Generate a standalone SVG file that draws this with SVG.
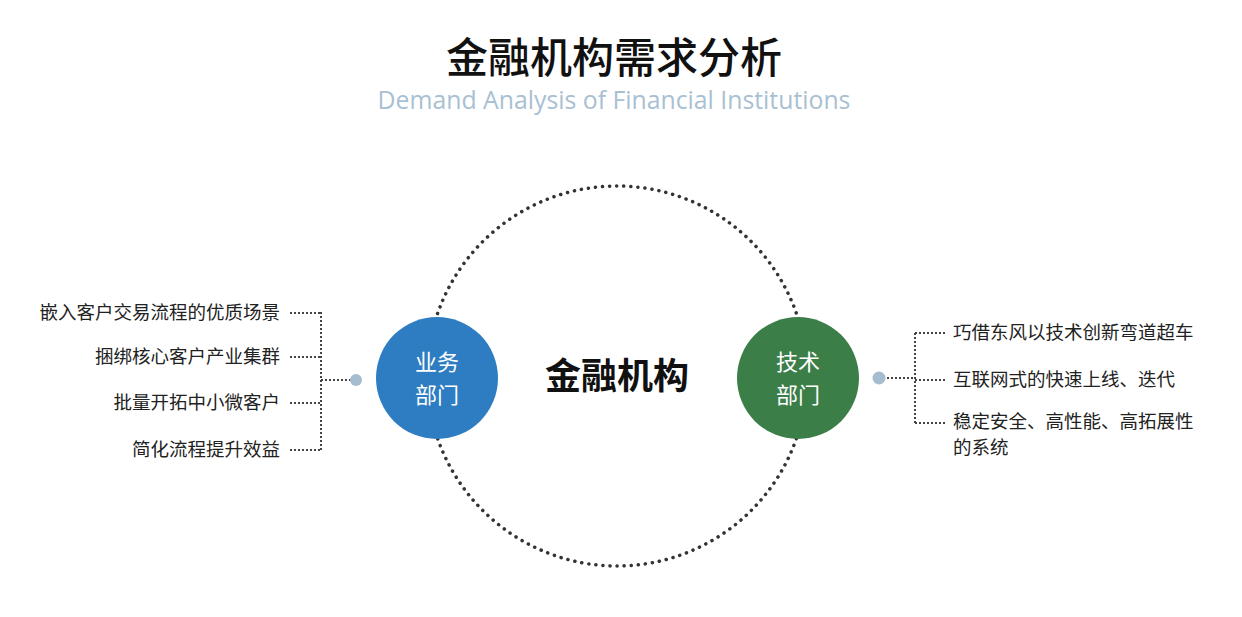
<svg xmlns="http://www.w3.org/2000/svg" width="1242" height="617" viewBox="0 0 1242 617">
<style>
.t{font-family:"Noto Sans CJK SC","Noto Sans",sans-serif;}
.item{font-family:"Noto Sans CJK SC",sans-serif;font-size:18.5px;fill:#222;}
.dl{stroke:#444;stroke-width:2;stroke-dasharray:2 2;fill:none;}
.nl{font-family:"Noto Sans CJK SC",sans-serif;font-size:22px;fill:#fff;text-anchor:middle;}
</style>
<rect width="1242" height="617" fill="#fff"/>
<text x="614" y="73" class="t" font-size="42" font-weight="500" text-anchor="middle" fill="#111">金融机构需求分析</text>
<text x="614" y="109" font-family="Open Sans, sans-serif" font-size="24.8" text-anchor="middle" fill="#a9c0d2">Demand Analysis of Financial Institutions</text>
<g id="ring"><circle cx="617" cy="376" r="190" fill="none" stroke="#333" stroke-width="3.5" stroke-dasharray="0.1 7" stroke-linecap="round"/></g>
<g id="center"><text x="617" y="389" class="t" font-size="36" font-weight="bold" text-anchor="middle" fill="#111">金融机构</text></g>
<g id="connectors">
<path class="dl" d="M290 313H321M290 357H321M290 403H321M290 450H321M321 312V451M321 380H352"/>
<path class="dl" d="M883 378H915M915 333V423M915 333H946M915 380H946M915 423H946"/>
</g>
<g id="dotL"><circle cx="356" cy="380" r="6" fill="#a6bccf"/></g>
<g id="dotR"><circle cx="879" cy="378" r="6.5" fill="#a6bccf"/></g>
<g id="biz"><circle cx="437" cy="378" r="61" fill="#2e7dc3"/><text x="437" y="370" class="nl">业务</text><text x="437" y="403" class="nl">部门</text></g>
<g id="tech"><circle cx="798" cy="378" r="61" fill="#3b7e48"/><text x="798" y="370" class="nl">技术</text><text x="798" y="403" class="nl">部门</text></g>
<g id="leftItems" text-anchor="end">
<text x="280" y="319" class="item">嵌入客户交易流程的优质场景</text>
<text x="280" y="363" class="item">捆绑核心客户产业集群</text>
<text x="280" y="409" class="item">批量开拓中小微客户</text>
<text x="280" y="456" class="item">简化流程提升效益</text>
</g>
<g id="rightItems">
<text x="953" y="428" class="item">稳定安全、高性能、高拓展性</text>
<text x="953" y="454" class="item">的系统</text>
<text x="953" y="339" class="item">巧借东风以技术创新弯道超车</text>
<text x="953" y="386" class="item">互联网式的快速上线、迭代</text>
</g>
</svg>
